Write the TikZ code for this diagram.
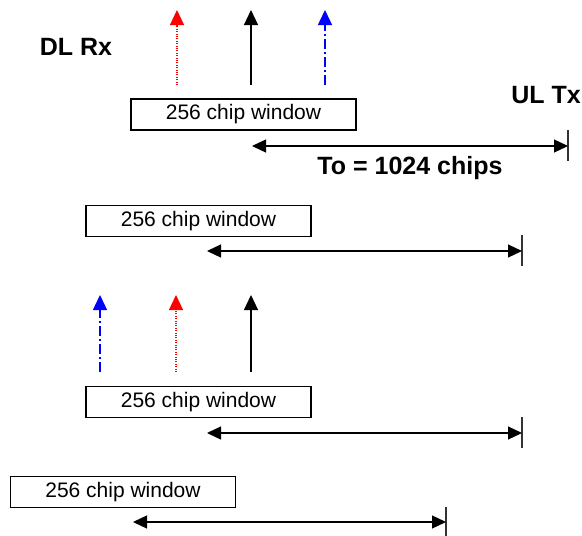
\documentclass[tikz,border=0pt]{standalone}
\usepackage{fontspec}
\setmainfont{Liberation Sans}
\usetikzlibrary{arrows.meta}
\definecolor{PathRed}{HTML}{FF0000}
\definecolor{PathBlue}{HTML}{0000FF}
\definecolor{TickGray}{HTML}{333333}

\tikzset{
    chipWindow/.style={
        draw=black,
        line width=1.2pt,
        minimum width=225pt,
        minimum height=31pt,
        inner sep=0pt,
        font=\fontsize{21}{25}\selectfont
    },
    boldLabel/.style={inner sep=0pt, font=\fontsize{25}{30}\selectfont\bfseries},
    pathUp/.style={-{Triangle[length=15pt,width=14pt]}, line width=1.2pt},
    redPath/.style={pathUp, PathRed, dash pattern=on 1pt off 1.4pt},
    bluePath/.style={pathUp, PathBlue, line width=1.4pt, dash pattern=on 10pt off 3pt on 2pt off 3pt},
    blackPath/.style={pathUp, black},
    offsetArrow/.style={{Triangle[length=14pt,width=13pt]}-{Triangle[length=14pt,width=13pt]}, line width=1.2pt},
    tickLine/.style={TickGray, line width=1.2pt}
}

\begin{document}
\begin{tikzpicture}[x=1pt, y=-1pt]
\useasboundingbox (0,0) rectangle (582,536);

% labels
\node[boldLabel] (dlrx) at (76,47) {DL Rx};
\node[boldLabel, anchor=east] (ultx) at (581,95) {UL Tx};
\node[boldLabel] (tolabel) at (410,168) {To = 1024 chips};

% first window
\node[chipWindow] (winA) at (243.5,114.5) {256 chip window};
\coordinate (redA) at (177,85);
\coordinate (blackA) at (251,85);
\coordinate (blueA) at (325,85);
\coordinate (redAtip) at (177,10);
\coordinate (blackAtip) at (251,10);
\coordinate (blueAtip) at (325,10);
\draw[redPath] (redA) -- (redAtip);
\draw[blackPath] (blackA) -- (blackAtip);
\draw[bluePath] (blueA) -- (blueAtip);
\coordinate (tickAtop) at (568,130);
\coordinate (tickAbot) at (568,161);
\coordinate (startA) at (252,146);
\coordinate (endA) at (568,146);
\draw[tickLine] (tickAtop) -- (tickAbot);
\draw[offsetArrow] (startA) -- (endA);

% second window
\node[chipWindow] (winB) at (198.5,221) {256 chip window};
\coordinate (tickBtop) at (522,235);
\coordinate (tickBbot) at (522,266);
\coordinate (startB) at (207,251);
\coordinate (endB) at (522,251);
\draw[tickLine] (tickBtop) -- (tickBbot);
\draw[offsetArrow] (startB) -- (endB);

% third window
\node[chipWindow] (winC) at (198.5,402) {256 chip window};
\coordinate (blueC) at (100,372);
\coordinate (redC) at (176,372);
\coordinate (blackC) at (251,372);
\coordinate (blueCtip) at (100,295);
\coordinate (redCtip) at (176,295);
\coordinate (blackCtip) at (251,295);
\draw[bluePath] (blueC) -- (blueCtip);
\draw[redPath] (redC) -- (redCtip);
\draw[blackPath] (blackC) -- (blackCtip);
\coordinate (tickCtop) at (522,417);
\coordinate (tickCbot) at (522,448);
\coordinate (startC) at (207,433);
\coordinate (endC) at (522,433);
\draw[tickLine] (tickCtop) -- (tickCbot);
\draw[offsetArrow] (startC) -- (endC);

% fourth window
\node[chipWindow] (winD) at (123,492) {256 chip window};
\coordinate (tickDtop) at (446,507);
\coordinate (tickDbot) at (446,536);
\coordinate (startD) at (133,522);
\coordinate (endD) at (446,522);
\draw[tickLine] (tickDtop) -- (tickDbot);
\draw[offsetArrow] (startD) -- (endD);
\end{tikzpicture}
\end{document}
